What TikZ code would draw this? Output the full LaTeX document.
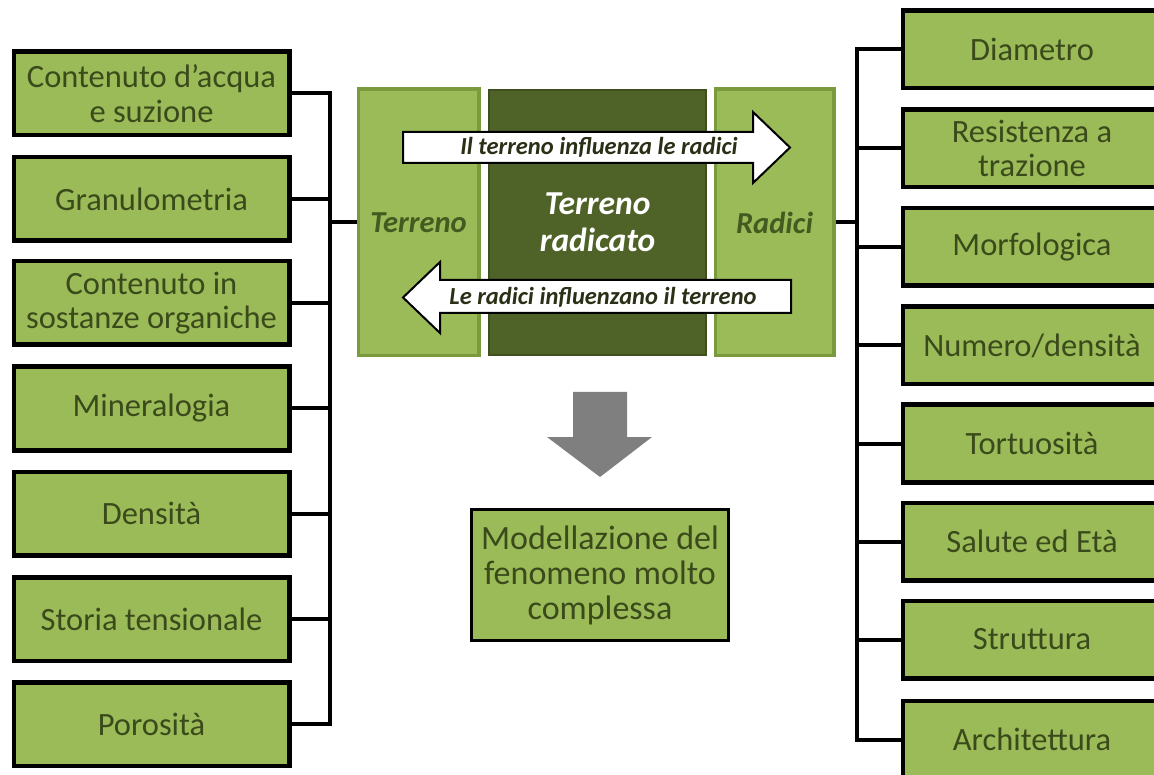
\documentclass[tikz,border=0pt]{standalone}
\usepackage{fontspec}
\setmainfont{Carlito}
\definecolor{boxgreen}{HTML}{9BBB59}
\definecolor{boxborder}{HTML}{7A9A3E}
\definecolor{darkgreen}{HTML}{4F6228}
\definecolor{darkborder}{HTML}{3F4F20}
\definecolor{txtgreen}{HTML}{3A4A1B}
\definecolor{sidetxt}{HTML}{435A20}
\definecolor{arrtxt}{HTML}{2A3016}
\definecolor{downgray}{HTML}{7F7F7F}
\begin{document}
\begin{tikzpicture}[x=1pt,y=-1pt,
  lbox/.style={draw=black, line width=3pt, fill=boxgreen, text=txtgreen,
    minimum width=274, minimum height=82, inner sep=0pt, align=center,
    font=\fontsize{32.5}{34.5}\selectfont},
  rbox/.style={lbox, minimum width=257, minimum height=76},
  bbox/.style={lbox, minimum width=257, minimum height=131,
    font=\fontsize{34}{35}\selectfont},
  cside/.style={draw=boxborder, line width=2.5pt, fill=boxgreen, text=sidetxt,
    minimum height=265, inner sep=0pt, align=center,
    font=\fontsize{30.5}{36}\selectfont\bfseries\itshape},
  cmid/.style={cside, draw=darkborder, fill=darkgreen, text=white,
    font=\fontsize{33.5}{37}\selectfont\bfseries\itshape},
  barrow/.style={draw=black, line width=2pt, fill=white, line join=miter},
  atext/.style={text=arrtxt, inner sep=0pt, font=\fontsize{24.5}{27}\selectfont\bfseries\itshape},
  conn/.style={draw=black, line width=4pt, line join=miter}
]
\useasboundingbox (0,0) rectangle (1154,775);
\clip (0,0) rectangle (1154,775);
\fill[white] (0,0) rectangle (1154,775);

% coordinates of the buses
\coordinate (lb) at (330,0);
\coordinate (rb) at (857,0);

% center boxes
\node[cside, minimum width=119] (T) at (418.5,222.5) {Terreno};
\node[cmid, minimum width=217] (M) at (597.5,222.5) {Terreno\\radicato};
\node[cside, minimum width=117] (Rd) at (774.5,222.5) {Radici};

% left boxes
\node[lbox] (L1) at (151.5,93.5)  {Contenuto d’acqua\\e suzione};
\node[lbox] (L2) at (151.5,199)   {Granulometria};
\node[lbox] (L3) at (151.5,303)   {Contenuto in\\sostanze organiche};
\node[lbox] (L4) at (151.5,408.5) {Mineralogia};
\node[lbox] (L5) at (151.5,513.5) {Densità};
\node[lbox] (L6) at (151.5,619)   {Storia tensionale};
\node[lbox] (L7) at (151.5,724)   {Porosità};

% right boxes
\node[rbox] (R1) at (1032,49.5)  {Diametro};
\node[rbox] (R2) at (1032,148.5) {Resistenza a\\trazione};
\node[rbox] (R3) at (1032,247)   {Morfologica};
\node[rbox] (R4) at (1032,345.5) {Numero/densità};
\node[rbox] (R5) at (1032,443.5) {Tortuosità};
\node[rbox] (R6) at (1032,541.5) {Salute ed Età};
\node[rbox] (R7) at (1032,639.5) {Struttura};
\node[rbox] (R8) at (1032,739.5) {Architettura};

% connectors
\draw[conn] (L1.east) -- (L1.east -| lb) -- (L7.east -| lb) -- (L7.east);
\foreach \i in {2,...,6} \draw[conn] (L\i.east) -- (L\i.east -| lb);
\draw[conn] (lb |- T.west) -- (T.west);
\draw[conn] (R1.west) -- (R1.west -| rb) -- (R8.west -| rb) -- (R8.west);
\foreach \i in {2,...,7} \draw[conn] (R\i.west) -- (R\i.west -| rb);
\draw[conn] (Rd.east) -- (rb |- Rd.east);

% redraw box borders over connector ends
\foreach \n in {L1,L2,L3,L4,L5,L6,L7,R1,R2,R3,R4,R5,R6,R7,R8}
  \draw[black, line width=3pt] (\n.south west) rectangle (\n.north east);
\draw[boxborder, line width=2.5pt] (T.south west) rectangle (T.north east);
\draw[boxborder, line width=2.5pt] (Rd.south west) rectangle (Rd.north east);

% block arrows
\draw[barrow] (403,132) -- (753,132) -- (753,112) -- (790,147.5) -- (753,183) -- (753,163) -- (403,163) -- cycle;
\node[atext] (a1) at (599,147.5) {Il terreno influenza le radici};
\draw[barrow] (791,280) -- (440,280) -- (440,262) -- (403,297.5) -- (440,333) -- (440,313) -- (791,313) -- cycle;
\node[atext] (a2) at (603,297) {Le radici influenzano il terreno};

% down arrow
\fill[downgray] (573,392) -- (627,392) -- (627,437) -- (652,437) -- (600,477) -- (547,437) -- (573,437) -- cycle;

% bottom box
\node[bbox] (B) at (600,575) {Modellazione del\\fenomeno molto\\complessa};
\end{tikzpicture}
\end{document}
